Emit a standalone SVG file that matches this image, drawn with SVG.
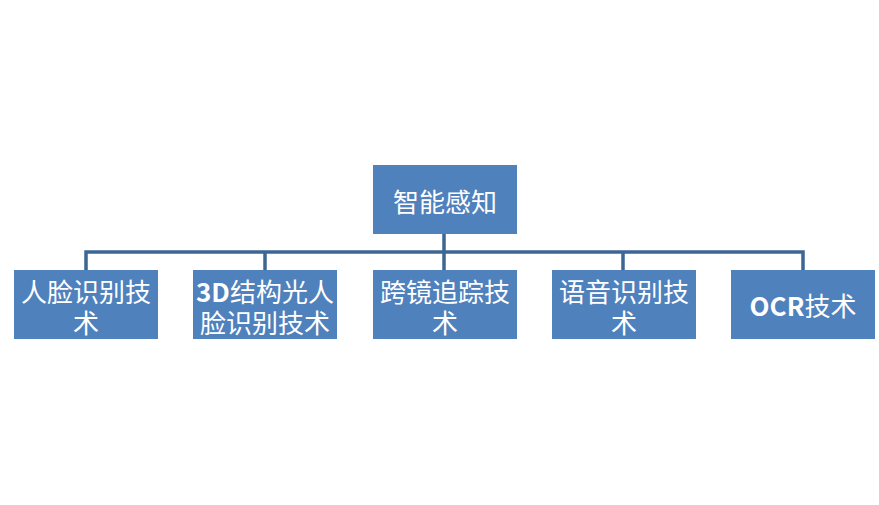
<svg xmlns="http://www.w3.org/2000/svg" width="879" height="505" viewBox="0 0 879 505">
<style>
.box{fill:#4F81BD;}
.t{fill:#FFFFFF;font-family:"Noto Sans CJK SC","Liberation Sans",sans-serif;font-size:26px;text-anchor:middle;dominant-baseline:central;}
.b{font-weight:bold;}
.c{fill:none;stroke:#3C6696;stroke-width:3.5;stroke-linejoin:miter;}
</style>
<rect width="879" height="505" fill="#FFFFFF"/>
<g id="connectors">
<path class="c" d="M444 234 V252"/>
<path class="c" d="M86 270 V252 H803 V270"/>
<path class="c" d="M265 252 V270"/>
<path class="c" d="M444 252 V270"/>
<path class="c" d="M623 252 V270"/>
</g>
<g id="n0"><rect class="box" x="373" y="165" width="144" height="69"/><text class="t" x="445" y="200">智能感知</text></g>
<g id="n1"><rect class="box" x="14" y="270" width="144" height="69"/><text class="t" x="86" y="290">人脸识别技<tspan x="86" dy="31">术</tspan></text></g>
<g id="n2"><rect class="box" x="193" y="270" width="144" height="69"/><text class="t" x="265" y="290"><tspan class="b">3D</tspan>结构光人<tspan x="265" dy="31">脸识别技术</tspan></text></g>
<g id="n3"><rect class="box" x="373" y="270" width="144" height="69"/><text class="t" x="445" y="290">跨镜追踪技<tspan x="445" dy="31">术</tspan></text></g>
<g id="n4"><rect class="box" x="552" y="270" width="144" height="69"/><text class="t" x="624" y="290">语音识别技<tspan x="624" dy="31">术</tspan></text></g>
<g id="n5"><rect class="box" x="731" y="270" width="144" height="69"/><text class="t" x="803" y="304"><tspan class="b">OCR</tspan>技术</text></g>
</svg>
